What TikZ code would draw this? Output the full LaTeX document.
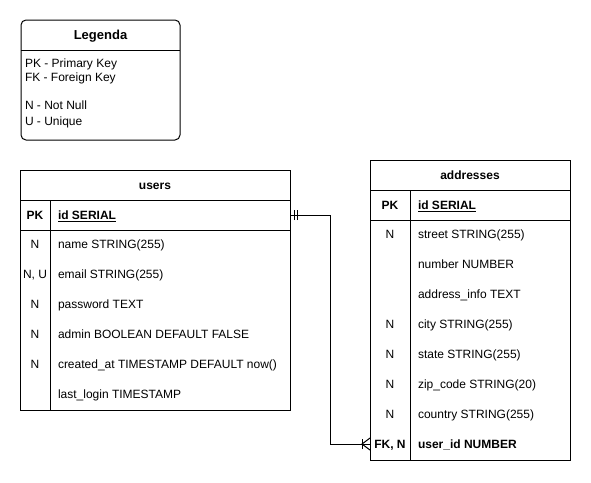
\documentclass[tikz,border=0pt]{standalone}
\usepackage{fontspec}
\setmainfont{Liberation Sans}
\begin{document}
\begin{tikzpicture}[x=1pt,y=-1pt,
  line width=1pt,
  every node/.style={inner sep=0pt, outer sep=0pt},
  txt/.style={font=\fontsize{12}{14}\selectfont, text=black, yshift=-4.4pt},
  fld/.style={txt, anchor=base west},
  key/.style={txt, anchor=base},
  bld/.style={font=\fontsize{12}{14}\selectfont\bfseries},
  hdr/.style={font=\fontsize{12}{14}\selectfont\bfseries, anchor=base, yshift=-4.4pt},
  tbl/.style={draw=black, anchor=north west, fill=white},
  conn/.style={draw=black, line width=1pt}]
\useasboundingbox (0,0) rectangle (591,482);
\fill[white] (0,0) rectangle (591,482);

% Legenda
\node[tbl, rounded corners=5pt, minimum width=159pt, minimum height=120pt] (leg) at (21,20) {};
\draw (leg.north west |- 0,50) -- (leg.north east |- 0,50);
\node[font=\fontsize{13}{15}\selectfont\bfseries, anchor=base, yshift=-4.7pt] (legh) at (100.5,35) {Legenda};
\node[fld] (l1) at (25,63.5) {PK - Primary Key};
\node[fld] (l2) at (25,77.5) {FK - Foreign Key};
\node[fld] (l3) at (25,105.5) {N - Not Null};
\node[fld] (l4) at (25,121.5) {U - Unique};

% users table
\node[tbl, minimum width=270pt, minimum height=240pt] (users) at (20,170) {};
\draw (20,200) -- (290,200);
\draw (20,230) -- (290,230);
\draw (50,200) -- (50,410);
\node[hdr] (uh) at (155,185) {users};
\node[key, bld] (uk0) at (35,215) {PK};
\node[fld, bld] (uid) at (58,215) {\underline{id SERIAL}};
\node[key] (uk1) at (35,244.5) {N};
\node[fld] (uf1) at (58,244.5) {name STRING(255)};
\node[key] (uk2) at (35,274.5) {N, U};
\node[fld] (uf2) at (58,274.5) {email STRING(255)};
\node[key] (uk3) at (35,304.5) {N};
\node[fld] (uf3) at (58,304.5) {password TEXT};
\node[key] (uk4) at (35,334.5) {N};
\node[fld] (uf4) at (58,334.5) {admin BOOLEAN DEFAULT FALSE};
\node[key] (uk5) at (35,364.5) {N};
\node[fld] (uf5) at (58,364.5) {created\_at TIMESTAMP DEFAULT now()};
\node[fld] (uf6) at (58,394.5) {last\_login TIMESTAMP};

% addresses table
\node[tbl, minimum width=200pt, minimum height=300pt] (addr) at (370,160) {};
\draw (370,190) -- (570,190);
\draw (370,220) -- (570,220);
\draw (410,190) -- (410,460);
\node[hdr] (ah) at (470,175) {addresses};
\node[key, bld] (ak0) at (390,205) {PK};
\node[fld, bld] (aid) at (418,205) {\underline{id SERIAL}};
\node[key] (ak1) at (390,234.5) {N};
\node[fld] (af1) at (418,234.5) {street STRING(255)};
\node[fld] (af2) at (418,264.5) {number NUMBER};
\node[fld] (af3) at (418,294.5) {address\_info TEXT};
\node[key] (ak4) at (390,324.5) {N};
\node[fld] (af4) at (418,324.5) {city STRING(255)};
\node[key] (ak5) at (390,354.5) {N};
\node[fld] (af5) at (418,354.5) {state STRING(255)};
\node[key] (ak6) at (390,384.5) {N};
\node[fld] (af6) at (418,384.5) {zip\_code STRING(20)};
\node[key] (ak7) at (390,414.5) {N};
\node[fld] (af7) at (418,414.5) {country STRING(255)};
\node[key, bld] (ak8) at (390,444.5) {FK, N};
\node[fld, bld] (auid) at (418,444.5) {user\_id NUMBER};

% connector
\coordinate (cs) at (users.east |- 0,215);
\coordinate (ce) at (addr.west |- 0,444);
\draw[conn] (cs) -- ++(40,0) |- (ce);
% one-and-only-one marks
\draw[conn] ([xshift=4pt,yshift=-5pt]cs) -- ([xshift=4pt,yshift=5pt]cs);
\draw[conn] ([xshift=7pt,yshift=-5pt]cs) -- ([xshift=7pt,yshift=5pt]cs);
% one-or-many crow's foot
\draw[conn] ([xshift=-8pt,yshift=-5pt]ce) -- ([xshift=-8pt,yshift=5pt]ce);
\draw[conn] ([yshift=-6pt]ce) -- ([xshift=-8pt]ce) -- ([yshift=6pt]ce);
\end{tikzpicture}
\end{document}
